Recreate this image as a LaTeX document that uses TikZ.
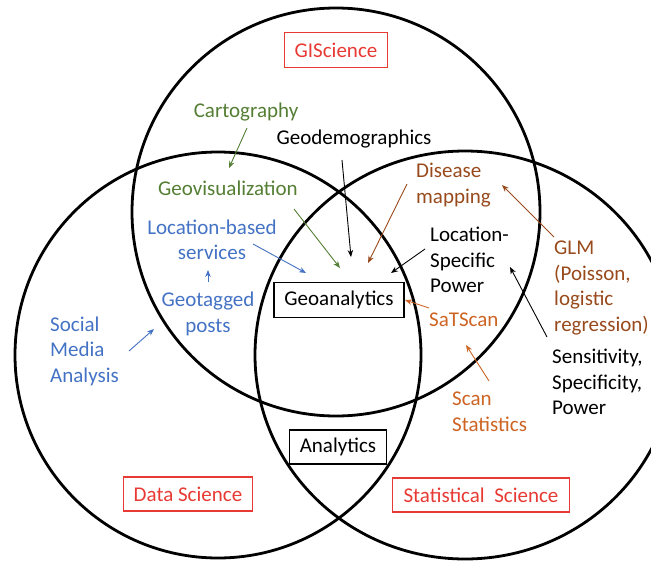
\documentclass[tikz,border=0pt]{standalone}
\usepackage{fontspec}
\setmainfont{Carlito}
\usetikzlibrary{arrows.meta}

\definecolor{fieldred}{RGB}{232,58,52}
\definecolor{geogreen}{RGB}{84,126,52}
\definecolor{socblue}{RGB}{68,114,196}
\definecolor{statbrown}{RGB}{152,74,28}
\definecolor{scanorange}{RGB}{205,100,35}

\begin{document}
\begin{tikzpicture}[x=1pt,y=-1pt,
  ring/.style={line width=2.8pt,draw=black},
  lbl/.style={inner sep=0pt,font=\fontsize{21}{25.5}\selectfont},
  tagbox/.style={lbl,draw,line width=1.1pt,fill=white,minimum height=34pt},
  fieldbox/.style={tagbox,draw=fieldred,text=fieldred},
  arr/.style={line width=0.9pt,-{Stealth[length=7pt,width=5.5pt]}},
]
\useasboundingbox (0,0) rectangle (651,560);

% the three fields
\draw[ring] (336,212) circle[radius=204];
\draw[ring] (218,355) circle[radius=203];
\draw[ring] (465,355) ellipse[x radius=210,y radius=204];

% field titles and overlap labels
\node[fieldbox,minimum width=103pt,minimum height=35pt] (gis) at (336,50) {GIScience};
\node[fieldbox,minimum width=129pt] (ds) at (188,494) {Data Science};
\node[fieldbox,minimum width=177pt] (ss) at (481,495) {Statistical\ \ Science};
\node[tagbox,minimum width=130pt,minimum height=35pt] (geoa) at (339,300) {Geoanalytics};
\node[tagbox,minimum width=97pt] (ana) at (338,447) {Analytics};

% topics
\node[lbl,text=geogreen] (carto) at (246,112) {Cartography};
\node[lbl] (geodem) at (354,139) {Geodemographics};
\node[lbl,text=geogreen] (geovis) at (228,188) {Geovisualization};
\node[lbl,text=socblue,align=center] (lbs) at (212,240) {Location-based\\services};
\node[lbl,text=socblue,align=center] (geotag) at (208,314) {Geotagged\\posts};
\node[lbl,text=socblue,align=left,anchor=west] (sma) at (50,351) {Social\\Media\\Analysis};
\node[lbl,text=statbrown,align=left,anchor=west] (dis) at (416,185) {Disease\\mapping};
\node[lbl,align=left,anchor=west] (lsp) at (430,260) {Location-\\Specific\\Power};
\node[lbl,text=statbrown,align=left,anchor=west] (glm) at (554,288) {GLM\\(Poisson,\\logistic\\regression)};
\node[lbl,text=scanorange,anchor=west] (sat) at (429,320) {SaTScan};
\node[lbl,align=left,anchor=west] (sens) at (552,382) {Sensitivity,\\Specificity,\\Power};
\node[lbl,text=scanorange,align=left,anchor=west] (scan) at (452,412) {Scan\\Statistics};

% arrow ends
\coordinate (carto-out) at (247,128);
\coordinate (geovis-in) at (229,168);
\coordinate (geodem-out) at (342,160);
\coordinate (geodem-in) at (351,257);
\coordinate (geovis-out) at (294,209);
\coordinate (geovis-to) at (340,268);
\coordinate (lbs-out) at (253,244);
\coordinate (lbs-to) at (306,273);
\coordinate (geotag-out) at (208,282);
\coordinate (lbs-in) at (208,270);
\coordinate (sma-out) at (129,351);
\coordinate (geotag-in) at (154,329);
\coordinate (dis-out) at (407,184);
\coordinate (dis-to) at (368,263);
\coordinate (lsp-out) at (425,249);
\coordinate (lsp-to) at (391,273);
\coordinate (sat-out) at (429,308);
\coordinate (geoa-in) at (405,300);
\coordinate (glm-out) at (554,237);
\coordinate (dis-in) at (502,185);
\coordinate (sens-out) at (547,337);
\coordinate (lsp-in) at (510,267);
\coordinate (scan-out) at (489,381);
\coordinate (sat-in) at (466,345);

% connectors
\draw[arr,geogreen] (carto-out) -- (geovis-in);
\draw[arr,black] (geodem-out) -- (geodem-in);
\draw[arr,geogreen] (geovis-out) -- (geovis-to);
\draw[arr,socblue] (lbs-out) -- (lbs-to);
\draw[arr,socblue] (geotag-out) -- (lbs-in);
\draw[arr,socblue] (sma-out) -- (geotag-in);
\draw[arr,statbrown] (dis-out) -- (dis-to);
\draw[arr,black] (lsp-out) -- (lsp-to);
\draw[arr,scanorange] (sat-out) -- (geoa-in);
\draw[arr,statbrown] (glm-out) -- (dis-in);
\draw[arr,black] (sens-out) -- (lsp-in);
\draw[arr,scanorange] (scan-out) -- (sat-in);
\end{tikzpicture}
\end{document}
